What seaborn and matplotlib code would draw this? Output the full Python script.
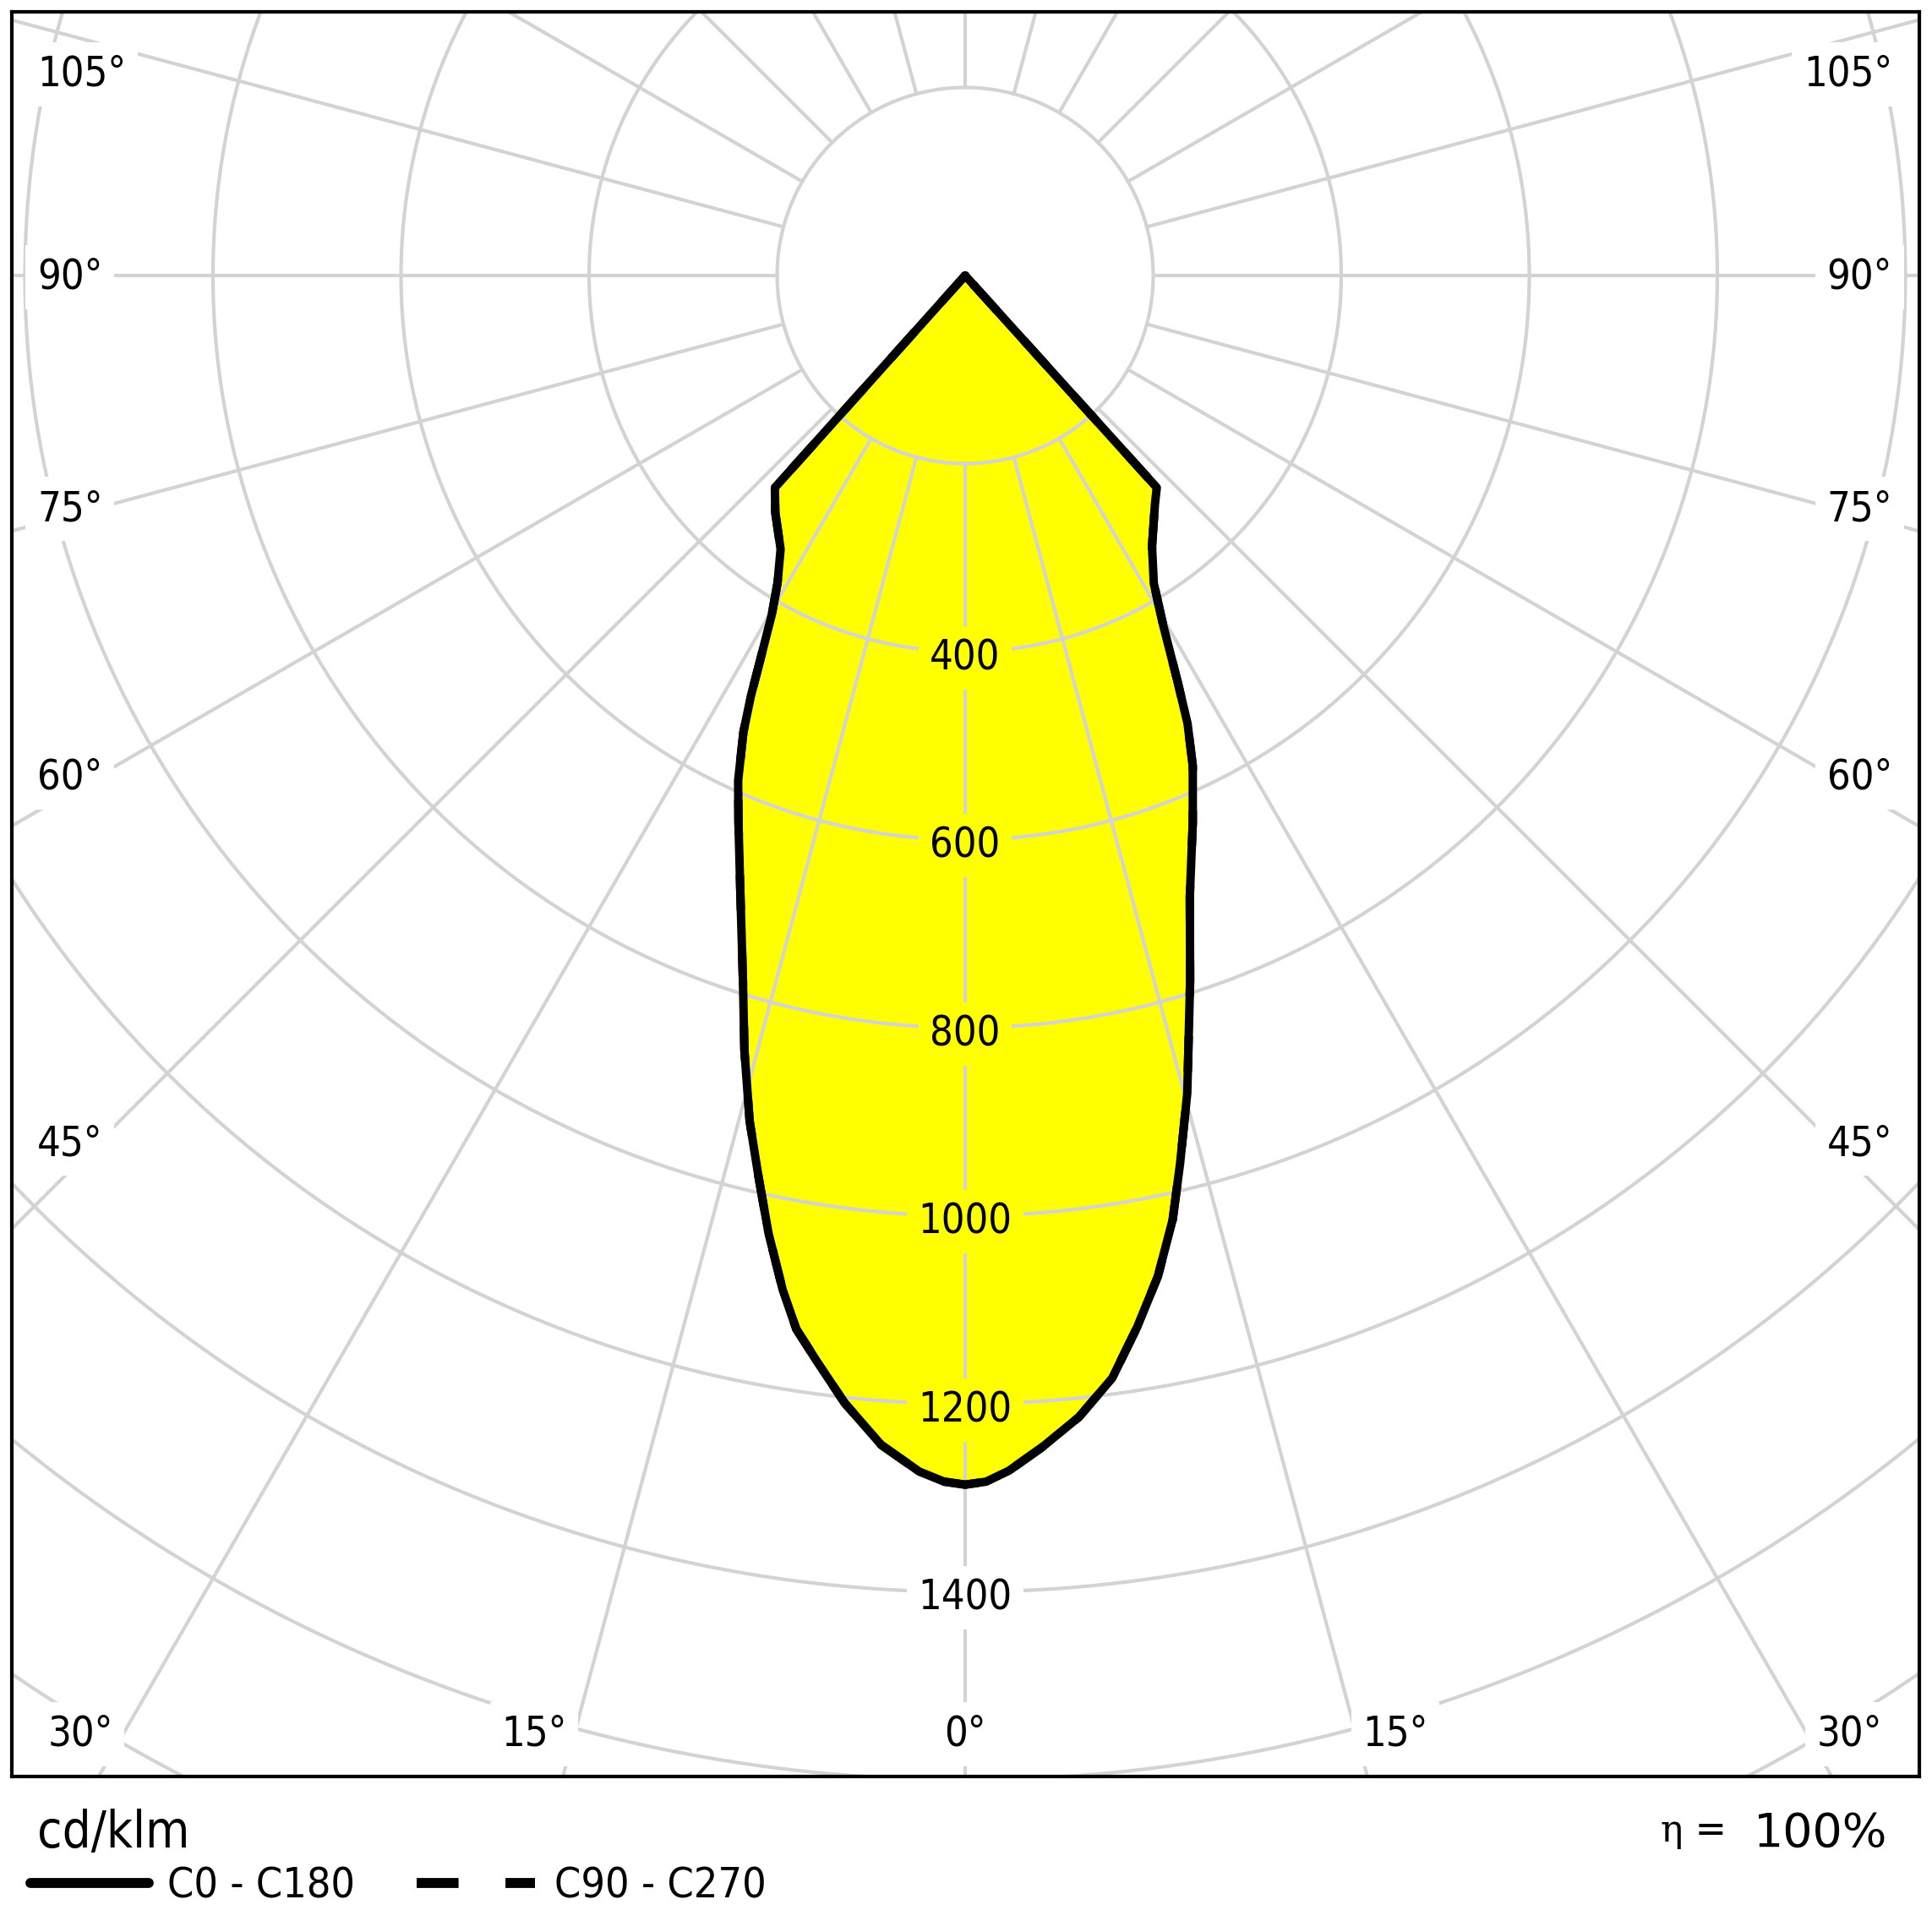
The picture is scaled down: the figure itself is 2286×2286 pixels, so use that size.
import numpy as np
import pandas as pd
import matplotlib
matplotlib.use("Agg")
import matplotlib.pyplot as plt
import seaborn as sns
from matplotlib.lines import Line2D

# luminous intensity (cd/klm), gamma angle from nadir
gamma_c0 = [0, 1.0, 2.1, 3.75, 5.7, 7.6, 9.3, 10.9, 12.4, 13.6, 15.2, 17.7, 19.9, 22.6,
            24.9, 26.4, 27.6, 29.5, 31.5, 34.6, 39.7, 42.1, 45, 90, 180]
c0 = [1286, 1283, 1272, 1249, 1220, 1183, 1133, 1084, 1028, 972, 901, 787, 702, 630,
      575, 532, 488, 428, 384, 350, 316, 304, 0, 0, 0]
gamma_c180 = [0, 1.0, 2.2, 4.1, 6.1, 7.8, 9.1, 10.2, 11.6, 12.9, 14.3, 15.9, 17.5, 20.1,
              22.5, 24.2, 25.9, 27.0, 28.1, 29.7, 31.4, 34.0, 38.7, 41.9, 45, 90, 180]
c180 = [1286, 1283, 1273, 1247, 1206, 1165, 1135, 1096, 1040, 984, 928, 857, 786, 696,
        630, 589, 540, 502, 462, 415, 383, 351, 323, 303, 0, 0, 0]
# C90 - C270 plane lies exactly under C0 - C180
gamma_c90, c90 = gamma_c0, c0
gamma_c270, c270 = gamma_c180, c180

ring_values = [200, 400, 600, 800, 1000, 1200, 1400, 1600, 1800, 2000, 2200, 2400]
ring_labels = [400, 600, 800, 1000, 1200, 1400]
side_angles = [105, 90, 75, 60, 45]
bottom_angles = [30, 15, 0, 15, 30]


def plane(g_right, right, g_left, left):
    gr = np.deg2rad(g_right)
    gl = np.deg2rad(g_left)
    rr = np.array(right, float)
    rl = np.array(left, float)
    xs = np.concatenate([-(rl * np.sin(gl))[::-1], (rr * np.sin(gr))[1:]])
    ys = np.concatenate([-(rl * np.cos(gl))[::-1], -(rr * np.cos(gr))[1:]])
    return pd.DataFrame({"x": xs, "y": ys})


sns.set_style("white")
plt.rcParams["font.family"] = ["DejaVu Sans"]
plt.rcParams["text.color"] = "black"

W = 2286
fig = plt.figure(figsize=(22.86, 22.86), dpi=100)
# frame: px 14..2271 horizontally, 14..2102 vertically; pole at (1142, 326); 1.1125 px per cd
ax = fig.add_axes([14 / W, 1 - 2102 / W, 2257 / W, 2088 / W])
px = 1.1125
ax.set_xlim((14 - 1142) / px, (2271 - 1142) / px)
ax.set_ylim(-(2102 - 326) / px, (326 - 14) / px)
ax.set_xticks([])
ax.set_yticks([])
for s in ax.spines.values():
    s.set_linewidth(3)
    s.set_color("black")

grid_col = "#d3d3d3"
t = np.linspace(0, 2 * np.pi, 721)
for r in ring_values:
    ax.plot(r * np.sin(t), r * np.cos(t), color=grid_col, lw=3.0, zorder=2)
for a in range(0, 360, 15):
    ar = np.deg2rad(a)
    ax.plot([200 * np.sin(ar), 4000 * np.sin(ar)], [-200 * np.cos(ar), -4000 * np.cos(ar)],
            color=grid_col, lw=3.0, zorder=2)

main = plane(gamma_c0, c0, gamma_c180, c180)
other = plane(gamma_c90, c90, gamma_c270, c270)
ax.fill(main["x"], main["y"], color="#ffff00", zorder=1, lw=0)
sns.lineplot(data=other, x="x", y="y", sort=False, estimator=None, ax=ax, color="black",
             lw=7.2, linestyle=(0, (4.2, 4.7)), zorder=3)
sns.lineplot(data=main, x="x", y="y", sort=False, estimator=None, ax=ax, color="black",
             lw=7.2, zorder=4)
for ln in ax.lines[-2:]:
    ln.set_solid_joinstyle("round")
    ln.set_solid_capstyle("round")
ax.set_xlabel("")
ax.set_ylabel("")

lab_font = dict(fontsize=35, fontstretch="condensed", color="black", zorder=6)
for v in ring_labels:
    inside = v < max(c0)
    ax.text(0, -v - 6.5, str(v), ha="center", va="center",
            bbox=dict(boxstyle="square,pad=0.28", fc="#ffff00" if inside else "white", ec="none"),
            **lab_font)

# angle labels, placed in pixels
side_y = [88, 328, 602, 920, 1353]
bottom_x = [95, 632, 1142, 1651, 2188]
for a, yy in zip(side_angles, side_y):
    for xx, ha in [(44, "left"), (2239, "right")]:
        ax.text(xx / W, 1 - yy / W, f"{a}°", transform=fig.transFigure, ha=ha, va="center",
                bbox=dict(boxstyle="square,pad=0.28", fc="white", ec="none"), **lab_font)
for a, xx in zip(bottom_angles, bottom_x):
    ax.text(xx / W, 1 - 2052 / W, f"{a}°", transform=fig.transFigure, ha="center", va="center",
            bbox=dict(boxstyle="square,pad=0.28", fc="white", ec="none"), **lab_font)

fig.text(44 / W, 1 - 2170 / W, "cd/klm", ha="left", va="center", fontsize=43,
         fontstretch="condensed")
fig.text(1965 / W, 1 - 2166 / W, "η =", ha="left", va="center", fontsize=32,
         family="DejaVu Serif")
fig.text(2233 / W, 1 - 2170 / W, "100%", ha="right", va="center", fontsize=40)

handles = [Line2D([], [], color="black", lw=8.5),
           Line2D([], [], color="black", lw=8.5, linestyle=(0, (4.2, 4.7)))]
fig.legend(handles, ["C0 - C180", "C90 - C270"], loc="center left",
           bbox_to_anchor=(36 / W, 1 - 2231 / W), ncol=2, frameon=False,
           prop=dict(size=36, stretch="condensed"), handlelength=2.8,
           handletextpad=0.45, columnspacing=1.45, borderpad=0, borderaxespad=0)

fig.savefig("out.png", dpi=100)
